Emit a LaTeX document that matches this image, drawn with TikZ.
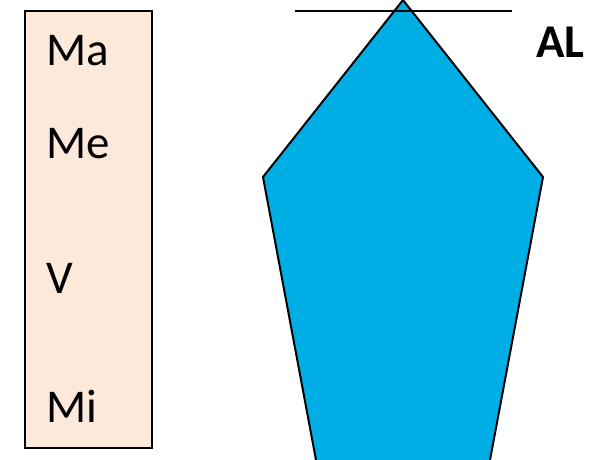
\documentclass[tikz,border=0pt]{standalone}
\usepackage{fontspec}
\setmainfont{Carlito}
\definecolor{peach}{RGB}{253,233,217}
\definecolor{penta}{RGB}{0,174,230}
\begin{document}
\begin{tikzpicture}[x=1pt,y=-1pt,
  lbl/.style={anchor=base west,inner sep=0pt,font=\fontsize{47}{52}\selectfont},
  edge/.style={line width=2pt,line join=miter}]
\useasboundingbox (0,0) rectangle (590,460);
\begin{scope}
\clip (0,0) rectangle (590,460);
\draw[edge,fill=penta] (403,0) -- (543,177) -- (490,460) -- (487,480) -- (313,480) -- (316,460) -- (263,177) -- cycle;
\end{scope}
\draw[line width=1.8pt] (295,11) -- (512,11);
\draw[edge,fill=peach] (25,11) rectangle (152,448);
\node[lbl] (ma) at (46,66) {Ma};
\node[lbl] (me) at (46,159) {Me};
\node[lbl] (v) at (46,293) {V};
\node[lbl] (mi) at (46,422) {Mi};
\node[lbl,font=\fontsize{47}{52}\selectfont\bfseries] (al) at (536,58) {AL};
\end{tikzpicture}
\end{document}
